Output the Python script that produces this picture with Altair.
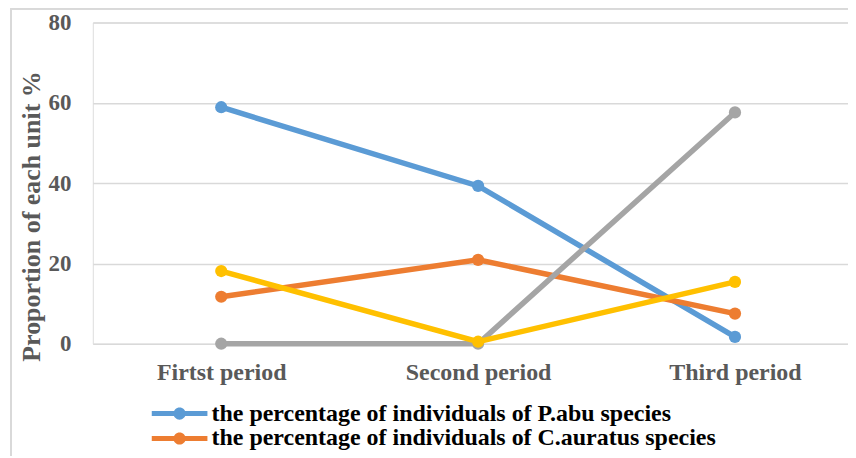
import altair as alt
import pandas as pd

periods = ["Firtst period", "Second period", "Third period"]
series_names = [
    "the percentage of individuals of P.abu species",
    "the percentage of individuals of C.auratus species",
    "series 3",
    "series 4",
]
pabu = [58.9, 39.3, 1.7]
cauratus = [11.7, 20.9, 7.5]
series3 = [0.0, 0.0, 57.6]
series4 = [18.1, 0.5, 15.4]
colors = ["#5B9BD5", "#ED7D31", "#A5A5A5", "#FFC000"]
y_ticks = [0, 20, 40, 60, 80]

rows = []
for name, vals in zip(series_names, [pabu, cauratus, series3, series4]):
    for i, v in enumerate(vals):
        rows.append({"series": name, "idx": i, "period": periods[i], "value": v})
df = pd.DataFrame(rows)

label_expr = "[" + ",".join("'" + p + "'" for p in periods) + "][datum.value]"

sym = ("M-3.1,-0.28H3.1V0.28H-3.1Z "
       "M0,-0.68A0.68,0.68 0 1,1 0,0.68A0.68,0.68 0 1,1 0,-0.68Z")

color_scale = alt.Scale(domain=series_names, range=colors)
FONT = "Liberation Serif"

base = alt.Chart(df).encode(
    x=alt.X("idx:Q",
            scale=alt.Scale(domain=[-0.5, 2.44], nice=False, zero=False),
            axis=alt.Axis(values=[0, 1, 2], labelExpr=label_expr, title=None,
                          grid=False, domain=False, ticks=False,
                          labelPadding=17, labelFontSize=24,
                          labelFont=FONT, labelFontWeight="bold",
                          labelColor="#595959")),
    y=alt.Y("value:Q",
            scale=alt.Scale(domain=[0, 80], nice=False),
            axis=alt.Axis(values=y_ticks, title="Proportion of each unit %",
                          domain=False, ticks=False, labelPadding=22,
                          labelFontSize=23, labelFont=FONT,
                          labelFontWeight="bold", labelColor="#595959",
                          titleFontSize=26, titleFont=FONT,
                          titleFontWeight="bold", titleColor="#595959",
                          titlePadding=3, titleY=194,
                          gridColor="#D9D9D9", gridWidth=1.5)),
    color=alt.Color("series:N", scale=color_scale,
                    sort=series_names,
                    legend=alt.Legend(values=series_names[:2], title=None,
                                      orient="none", legendX=75, legendY=380,
                                      symbolType=sym, symbolSize=324,
                                      symbolStrokeWidth=0, labelOffset=20,
                                      labelFontSize=24, labelFont=FONT,
                                      labelFontWeight="bold", labelColor="#000000",
                                      rowPadding=1, labelLimit=700)),
)

lines = base.mark_line(strokeWidth=5.5).encode(detail="series:N")
points = base.mark_circle(size=150, opacity=1)

frame_v = alt.Chart(df).mark_rule(color="#D9D9D9", strokeWidth=2, clip=False).encode(
    x=alt.value(-82), y=alt.value(-14), y2=alt.value(440))
frame_h = alt.Chart(df).mark_rule(color="#D9D9D9", strokeWidth=2, clip=False).encode(
    x=alt.value(-82), x2=alt.value(770), y=alt.value(-14))

chart = alt.layer(frame_v, frame_h, lines, points).properties(
    width=757, height=322,
    autosize=alt.AutoSizeParams(type="none"),
    padding={"left": 85, "top": 14, "right": 0, "bottom": 112},
).configure_view(stroke=None).configure(background="white")

chart.save("out.html", embed_options={"renderer": "svg", "actions": False})
